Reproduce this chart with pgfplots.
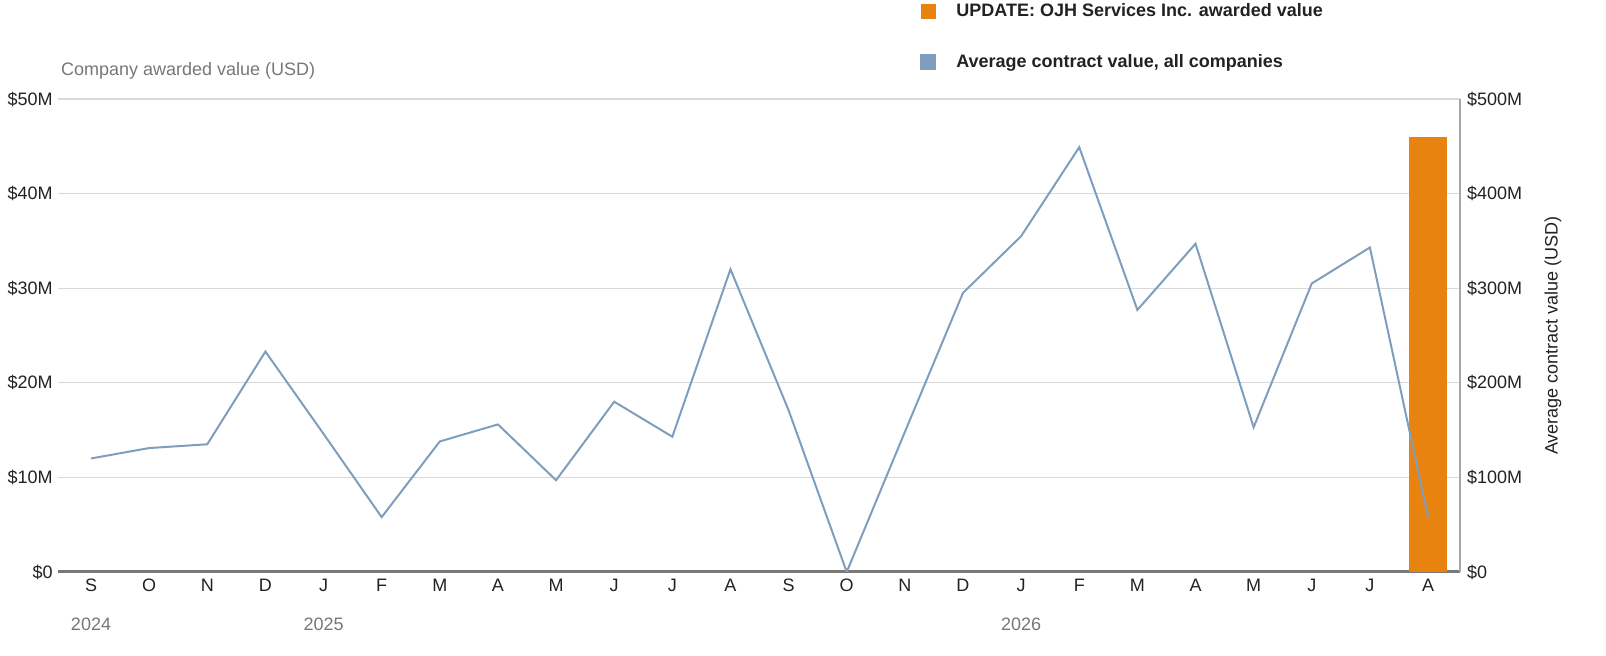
\documentclass[border=0pt]{standalone}
\usepackage{pgfplots}
\pgfplotsset{compat=1.18}
\usepackage{fontspec}
\setmainfont{Liberation Sans}

\definecolor{barorange}{HTML}{E8830F}
\definecolor{avgblue}{HTML}{7F9EBD}
\definecolor{gridgray}{HTML}{D9D9D9}
\definecolor{labelgray}{HTML}{777777}
\definecolor{textdark}{HTML}{222222}

% average contract value, all companies (USD millions), Sep 2024 - Aug 2026
\pgfplotstableread{
x avg
0 120
1 131
2 135
3 233
4 146
5 58
6 138
7 156
8 97
9 180
10 143
11 320
12 171
13 0
14 148
15 295
16 355
17 449
18 277
19 347
20 153
21 305
22 343
23 58
}\avgtable

\begin{document}
\begin{tikzpicture}
\pgfplotsset{
  every axis/.append style={
    scale only axis, width=701pt, height=236.5pt,
    xmin=-0.568, xmax=23.55,
    tick style={draw=none},
    tick label style={font=\fontsize{9}{10}\selectfont, text=textdark},
  }
}
\begin{axis}[
  name=main,
  clip=false,
  ymin=0, ymax=50,
  axis x line=bottom, axis y line=left,
  axis line style={-},
  x axis line style={draw=gray!95!black, line width=1.5pt},
  y axis line style={draw=none},
  ymajorgrids, grid style={gridgray, line width=0.6pt},
  ytick={0,10,20,30,40,50},
  yticklabels={\$0,\$10M,\$20M,\$30M,\$40M,\$50M},
  yticklabel style={xshift=3pt},
  xtick={0,...,23},
  xticklabels={S,O,N,D,J,F,M,A,M,J,J,A,S,O,N,D,J,F,M,A,M,J,J,A},
  xticklabel style={yshift=2pt},
]
\addplot[ybar, bar width=0.64, bar shift=0pt, fill=barorange, draw=none] coordinates {(23,46)};
\node[anchor=west, text=labelgray, font=\fontsize{9}{10}\selectfont, xshift=-2pt, yshift=14pt] at (rel axis cs:0,1) {Company awarded value (USD)};
\node[text=labelgray, font=\fontsize{9}{10}\selectfont, yshift=-26pt] at (axis cs:0,0) {2024};
\node[text=labelgray, font=\fontsize{9}{10}\selectfont, yshift=-26pt] at (axis cs:4,0) {2025};
\node[text=labelgray, font=\fontsize{9}{10}\selectfont, yshift=-26pt] at (axis cs:16,0) {2026};
\node[xshift=46.5pt, rotate=90, text=textdark, font=\fontsize{9}{10}\selectfont] at (rel axis cs:1,0.5) {Average contract value (USD)};
\end{axis}

\begin{axis}[
  ymin=0, ymax=500,
  axis x line=none,
  axis y line*=right,
  axis line style={-},
  y axis line style={draw=gray!70, line width=0.6pt},
  ytick={0,100,200,300,400,500},
  yticklabels={\$0,\$100M,\$200M,\$300M,\$400M,\$500M},
  legend style={draw=none, fill=none, at={(rel axis cs:0.6148,1.212)}, anchor=north west,
    font=\bfseries\fontsize{9}{10}\selectfont, text=textdark, row sep=13.5pt, inner sep=0pt,
    /tikz/every odd column/.append style={column sep=8pt}},
  legend cell align=left,
]
\addlegendimage{legend image code/.code={\fill[barorange] (0pt,-3.5pt) rectangle (7pt,3.5pt);}}
\addlegendentry{UPDATE: OJH Services Inc. awarded value}
\addplot[avgblue, line width=1pt,
  legend image code/.code={\fill[avgblue] (0pt,-3.5pt) rectangle (7pt,3.5pt);}]
  table[x=x, y=avg] {\avgtable};
\addlegendentry{Average contract value, all companies}
\end{axis}
\pgfresetboundingbox
\path[use as bounding box] (-29pt,-42pt) rectangle (774pt,286pt);
\end{tikzpicture}
\end{document}
